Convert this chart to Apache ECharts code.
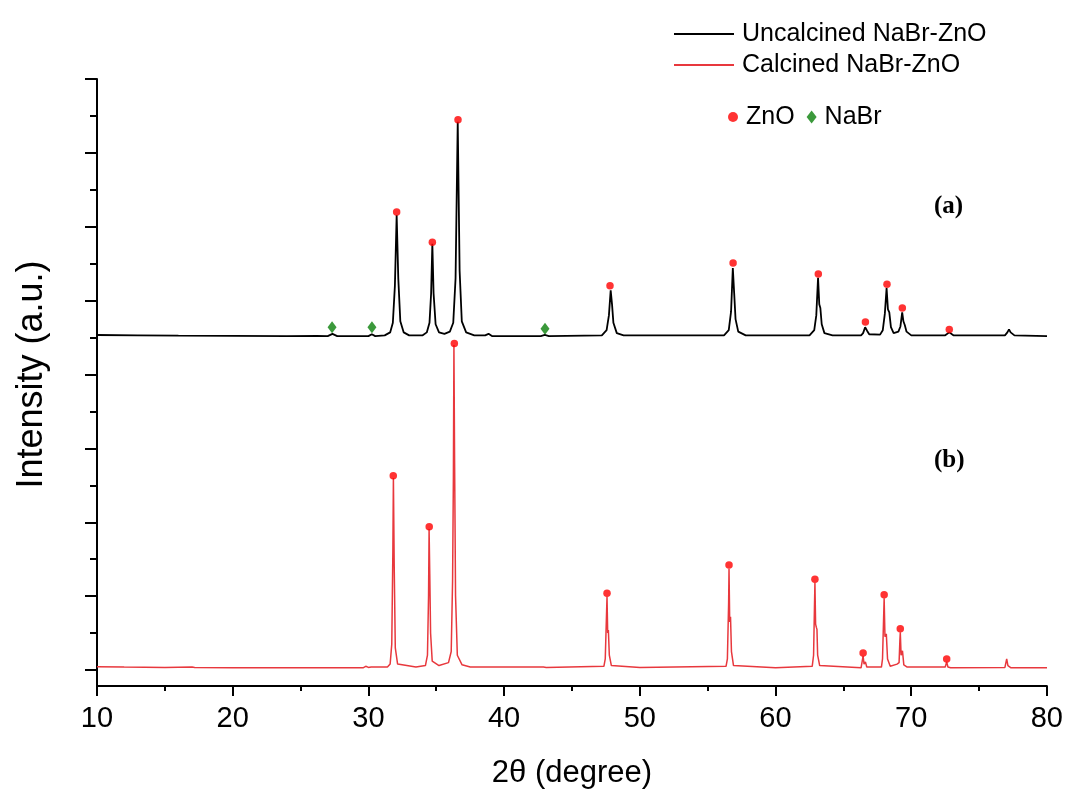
<!DOCTYPE html>
<html>
<head>
<meta charset="utf-8">
<script src="https://cdn.jsdelivr.net/npm/echarts@6/dist/echarts.min.js"></script>
<style>
html,body{margin:0;padding:0;background:#fff;}
#chart{width:1066px;height:794px;}
</style>
</head>
<body>
<div id="chart"></div>
<script>
// ---- data (2θ in degrees, intensity in arbitrary units) ----
const xTicks = [10, 20, 30, 40, 50, 60, 70, 80];
const seriesNames = ['Uncalcined NaBr-ZnO', 'Calcined NaBr-ZnO'];
const phaseNames = ['ZnO', 'NaBr'];

const uncalcined = [
  [10, 4.535], [13, 4.53], [16, 4.525], [20, 4.522], [24, 4.52], [26.2, 4.522], [27.0, 4.52], [27.35, 4.55], [27.7, 4.52],
  [30.0, 4.52], [30.25, 4.545], [30.5, 4.52], [31.2, 4.53], [31.6, 4.57], [31.8, 4.7], [31.95, 5.2], [32.08, 6.16],
  [32.2, 5.3], [32.35, 4.72], [32.6, 4.57], [33.0, 4.53], [34.0, 4.53], [34.3, 4.57], [34.5, 4.7], [34.62, 5.1],
  [34.71, 5.77], [34.8, 5.1], [34.95, 4.68], [35.2, 4.57], [35.6, 4.55], [36.0, 4.58], [36.25, 4.7], [36.42, 5.3],
  [36.58, 7.42], [36.72, 5.4], [36.88, 4.72], [37.2, 4.57], [37.8, 4.53], [38.6, 4.53], [38.85, 4.55], [39.1, 4.52],
  [42.7, 4.52], [43.0, 4.535], [43.3, 4.52], [47.2, 4.53], [47.55, 4.6], [47.72, 4.8], [47.85, 5.14], [47.95, 4.95],
  [48.05, 4.7], [48.3, 4.56], [48.8, 4.53], [56.2, 4.53], [56.55, 4.6], [56.72, 4.85], [56.85, 5.44], [56.95, 5.1],
  [57.05, 4.75], [57.25, 4.58], [57.8, 4.53], [62.5, 4.53], [62.85, 4.6], [63.0, 4.8], [63.13, 5.31], [63.22, 4.95],
  [63.3, 4.9], [63.4, 4.68], [63.6, 4.56], [64.2, 4.53], [66.3, 4.53], [66.45, 4.56], [66.6, 4.64], [66.75, 4.59],
  [66.9, 4.545], [67.7, 4.54], [67.9, 4.6], [68.05, 4.82], [68.18, 5.17], [68.28, 4.88], [68.38, 4.84], [68.5, 4.64],
  [68.7, 4.56], [69.05, 4.58], [69.2, 4.65], [69.33, 4.84], [69.42, 4.72], [69.52, 4.67], [69.65, 4.58], [70.0, 4.53],
  [72.5, 4.53], [72.8, 4.57], [73.1, 4.53], [76.9, 4.53], [77.08, 4.57], [77.2, 4.61], [77.32, 4.57], [77.42, 4.56],
  [77.6, 4.53], [80, 4.52]
];

const calcined = [
  [10, 0.045], [12, 0.04], [15, 0.035], [17.0, 0.04], [17.1, 0.05], [17.2, 0.035], [20, 0.03], [22.3, 0.032], [22.4, 0.045],
  [22.5, 0.03], [25.9, 0.03], [26.0, 0.045], [26.1, 0.03], [29.6, 0.03], [29.8, 0.05], [30.0, 0.035], [30.2, 0.04],
  [31.4, 0.04], [31.6, 0.08], [31.72, 0.35], [31.8, 1.6], [31.84, 2.6], [31.9, 1.4], [31.98, 0.3], [32.15, 0.08],
  [33.5, 0.04], [34.2, 0.06], [34.35, 0.2], [34.43, 1.0], [34.47, 1.91], [34.52, 1.3], [34.58, 0.5], [34.7, 0.12],
  [35.2, 0.06], [35.9, 0.1], [36.1, 0.25], [36.2, 1.2], [36.26, 2.6], [36.3, 4.4], [36.35, 2.8], [36.42, 1.0],
  [36.55, 0.2], [36.9, 0.07], [37.5, 0.04], [42.9, 0.04], [43.0, 0.06], [43.1, 0.035], [47.35, 0.05], [47.45, 0.15],
  [47.55, 0.8], [47.58, 0.99], [47.63, 0.5], [47.68, 0.54], [47.75, 0.2], [47.9, 0.06], [50.0, 0.035], [56.35, 0.05],
  [56.45, 0.15], [56.54, 0.9], [56.57, 1.37], [56.62, 0.65], [56.68, 0.72], [56.75, 0.25], [56.9, 0.06], [60, 0.03],
  [62.7, 0.05], [62.8, 0.2], [62.87, 0.9], [62.9, 1.18], [62.95, 0.62], [63.0, 0.58], [63.05, 0.55], [63.1, 0.2],
  [63.25, 0.06], [66.3, 0.03], [66.38, 0.05], [66.45, 0.19], [66.52, 0.08], [66.62, 0.11], [66.72, 0.04], [67.8, 0.04], [67.88, 0.15],
  [67.96, 0.7], [68.0, 0.97], [68.06, 0.45], [68.16, 0.49], [68.25, 0.15], [68.45, 0.05], [68.95, 0.08], [69.1, 0.1],
  [69.16, 0.4], [69.19, 0.51], [69.25, 0.2], [69.35, 0.26], [69.45, 0.07], [69.7, 0.04], [72.5, 0.04], [72.61, 0.11],
  [72.7, 0.04], [72.8, 0.06], [72.9, 0.03], [76.9, 0.035], [77.03, 0.15], [77.12, 0.06], [77.22, 0.08], [77.35, 0.03],
  [80, 0.03]
];

const znoMarks = [
  [32.08, 6.20], [34.71, 5.79], [36.6, 7.45], [47.8, 5.20], [56.87, 5.51], [63.15, 5.36], [66.62, 4.71], [68.21, 5.22],
  [69.34, 4.90], [72.8, 4.61],
  [31.83, 2.63], [34.48, 1.94], [36.33, 4.42], [47.58, 1.04], [56.57, 1.42], [62.9, 1.23], [66.45, 0.23], [68.0, 1.02],
  [69.19, 0.56], [72.61, 0.15]
];
const nabrMarks = [[27.32, 4.64], [30.26, 4.64], [43.01, 4.62]];

const panelLabels = ['(a)', '(b)'];

// ---- chart ----
const chart = echarts.init(document.getElementById('chart'), null, {renderer: 'canvas'});
const FONT = 'Liberation Sans, Arial, sans-serif';
const option = {
  animation: false,
  backgroundColor: '#ffffff',
  grid: [
    {left: 97, right: 19, top: 79, bottom: 106},
    {left: 97, right: 19, top: 79, bottom: 124}
  ],
  xAxis: [
    {
      type: 'value', gridIndex: 0, min: xTicks[0], max: xTicks[xTicks.length - 1], interval: 10,
      name: '2θ (degree)', nameLocation: 'middle', nameGap: 72,
      nameTextStyle: {fontFamily: FONT, fontSize: 31, color: '#000'},
      axisLine: {show: true, onZero: false, lineStyle: {color: '#000', width: 2}},
      axisTick: {show: true, inside: false, length: 10, lineStyle: {color: '#000', width: 2}},
      minorTick: {show: true, splitNumber: 2, length: 5, lineStyle: {color: '#000', width: 2}},
      axisLabel: {fontFamily: FONT, fontSize: 29, color: '#000', margin: 18},
      splitLine: {show: false}
    },
    {
      type: 'value', gridIndex: 1, min: xTicks[0], max: xTicks[xTicks.length - 1], show: false
    }
  ],
  yAxis: [
    {
      type: 'value', gridIndex: 0, min: 0, max: 1,
      axisLine: {show: true, onZero: false, lineStyle: {color: '#000', width: 2}},
      axisTick: {show: false}, axisLabel: {show: false}, splitLine: {show: false}
    },
    {
      type: 'value', gridIndex: 1, min: 0, max: 8, interval: 1,
      name: 'Intensity (a.u.)', nameLocation: 'middle', nameGap: 47,
      nameTextStyle: {fontFamily: FONT, fontSize: 36, color: '#000'},
      axisLine: {show: false, onZero: false},
      axisTick: {show: true, inside: false, length: 12, lineStyle: {color: '#000', width: 2}},
      minorTick: {show: true, splitNumber: 2, length: 7, lineStyle: {color: '#000', width: 2}},
      axisLabel: {show: false},
      splitLine: {show: false}
    }
  ],
  legend: [
    {
      data: [{name: seriesNames[0], icon: 'rect'}, {name: seriesNames[1], icon: 'rect'}],
      orient: 'vertical', left: 669, top: 15, itemWidth: 60, itemHeight: 2, itemGap: 3,
      textStyle: {fontFamily: FONT, fontSize: 25, color: '#000', lineHeight: 28, padding: [0, 0, 0, 3]}
    },
    {
      data: [{name: phaseNames[0], icon: 'circle'}, {name: phaseNames[1], icon: 'diamond'}],
      orient: 'horizontal', left: 723, top: 98, itemWidth: 10, itemHeight: 13, itemGap: 12,
      textStyle: {fontFamily: FONT, fontSize: 25, color: '#000', lineHeight: 28, padding: [0, 0, 0, 3]}
    }
  ],
  graphic: [
    {type: 'text', left: 934, top: 194, style: {text: panelLabels[0], font: 'bold 25px "Liberation Serif", "Times New Roman", serif', fill: '#000'}},
    {type: 'text', left: 934, top: 448, style: {text: panelLabels[1], font: 'bold 25px "Liberation Serif", "Times New Roman", serif', fill: '#000'}}
  ],
  series: [
    {
      name: seriesNames[0], type: 'line', xAxisIndex: 1, yAxisIndex: 1, data: uncalcined,
      symbol: 'none', color: '#000000', lineStyle: {color: '#000000', width: 1.8}, z: 2
    },
    {
      name: seriesNames[1], type: 'line', xAxisIndex: 1, yAxisIndex: 1, data: calcined,
      symbol: 'none', color: '#e8383d', lineStyle: {color: '#e8383d', width: 1.5}, z: 2
    },
    {
      name: phaseNames[0], type: 'scatter', xAxisIndex: 1, yAxisIndex: 1, data: znoMarks,
      symbol: 'circle', symbolSize: 7.5, color: '#ff0000', itemStyle: {color: '#ff0000'}, z: 5
    },
    {
      name: phaseNames[1], type: 'scatter', xAxisIndex: 1, yAxisIndex: 1, data: nabrMarks,
      symbol: 'diamond', symbolSize: [9, 12], color: '#0a7f0a', itemStyle: {color: '#0a7f0a'}, z: 5
    }
  ]
};
chart.setOption(option);
</script>
</body>
</html>
